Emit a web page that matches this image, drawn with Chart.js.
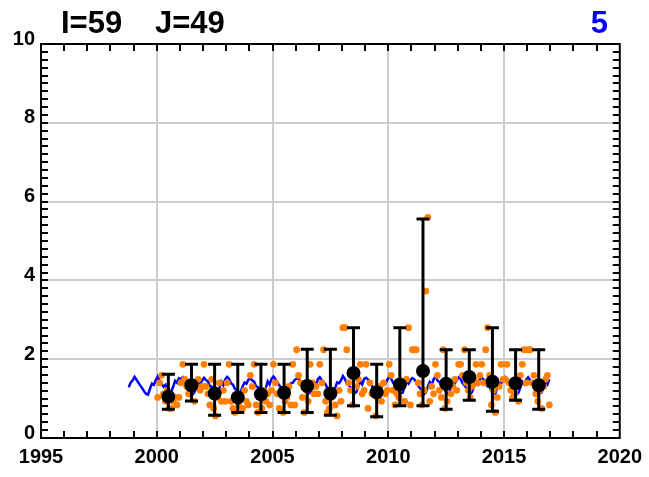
<!DOCTYPE html>
<html><head><meta charset="utf-8">
<script src="https://cdn.jsdelivr.net/npm/chart.js@4/dist/chart.umd.min.js"></script>
<style>html,body{margin:0;padding:0;background:#fff}#wrap{width:649px;height:477px;position:relative}</style>
</head><body><div id="wrap"><canvas id="c" width="649" height="477"></canvas></div>
<script>
// ---- data ----
const headerLeft = ['I=59', 'J=49'];
const headerRight = '5';
const xTickLabels = [1995, 2000, 2005, 2010, 2015, 2020];
const yTickLabels = [0, 2, 4, 6, 8, 10];

// annual statistics (plotted at mid-year)
const years = [2000,2001,2002,2003,2004,2005,2006,2007,2008,2009,2010,2011,2012,2013,2014,2015,2016];
const annualMean = [1.05,1.34,1.13,1.03,1.11,1.15,1.32,1.13,1.65,1.16,1.36,1.70,1.38,1.55,1.43,1.39,1.34];
const annualLow  = [0.73,0.94,0.58,0.65,0.65,0.65,0.65,0.58,0.82,0.54,0.82,0.82,0.73,0.96,0.68,0.96,0.73];
const annualHigh = [1.62,1.87,1.87,1.87,1.87,1.87,2.25,2.25,2.80,1.87,2.80,5.56,2.24,2.24,2.80,2.24,2.24];

// monthly observations, Jan 2000 .. Dec 2016
const obsStartYear = 2000;
const obsValues = [
 1.03,1.40,1.59,1.12,0.93,1.21,0.75,0.75,0.93,1.03,0.84,1.03,
 1.40,1.87,1.49,1.31,1.12,1.21,1.40,0.93,1.31,1.49,1.21,1.31,
 1.87,1.31,1.12,0.84,1.49,0.75,0.56,1.03,1.40,0.93,1.21,0.93,
 1.40,1.87,0.93,0.75,0.65,1.12,0.84,1.03,0.75,1.21,0.93,0.84,
 1.59,1.31,1.87,0.84,0.65,1.03,0.75,1.21,0.93,1.12,0.84,1.21,
 1.87,1.40,1.12,0.75,1.21,0.65,0.93,1.03,1.31,0.84,1.87,0.84,
 2.24,1.59,1.40,1.03,0.65,1.21,0.93,1.87,1.40,1.12,1.31,1.12,
 1.87,1.40,2.24,0.93,0.65,0.75,1.03,1.12,0.84,0.56,1.21,0.93,
 2.80,2.80,2.24,1.40,1.21,0.84,1.59,1.31,1.49,1.87,1.12,1.21,
 1.87,0.75,1.40,1.12,1.21,0.56,1.03,1.31,0.93,1.40,1.12,1.21,
 1.87,1.59,1.21,0.84,1.12,1.03,1.40,1.31,0.93,1.49,2.80,0.84,
 2.24,2.24,2.24,1.40,1.12,0.84,1.21,3.73,5.60,0.93,1.31,1.12,
 1.87,1.59,1.21,1.03,2.24,0.75,0.93,1.40,1.12,1.31,1.49,1.21,
 1.87,1.87,1.59,2.24,1.40,1.21,1.03,1.31,1.49,1.87,1.40,1.59,
 1.87,1.40,2.24,2.80,1.59,0.84,1.21,0.65,1.03,1.31,1.87,1.49,
 1.49,1.87,1.40,1.21,1.03,1.12,1.31,0.93,1.59,1.87,2.24,1.40,
 2.24,2.24,1.40,1.59,1.12,0.93,1.21,0.75,1.31,1.49,1.59,0.84
];

// model series, monthly from Oct 1998
const modelStart = 1998 + 9/12;
const modelValues = [
 1.29,1.41,1.46,
 1.55,1.48,1.40,1.33,1.26,1.18,1.12,1.10,1.25,1.38,1.35,1.47,
 1.56,1.45,1.38,1.30,1.35,1.22,1.14,1.18,1.30,1.45,1.40,1.52,
 1.50,1.54,1.42,1.36,1.28,1.20,1.10,1.16,1.28,1.40,1.37,1.46,
 1.53,1.47,1.44,1.32,1.30,1.17,1.13,1.12,1.27,1.43,1.34,1.49,
 1.55,1.50,1.39,1.35,1.25,1.21,1.11,1.17,1.31,1.41,1.38,1.48,
 1.52,1.46,1.43,1.31,1.29,1.19,1.14,1.13,1.26,1.44,1.36,1.50,
 1.56,1.49,1.41,1.34,1.27,1.18,1.12,1.15,1.29,1.39,1.40,1.47,
 1.51,1.53,1.40,1.33,1.30,1.20,1.13,1.16,1.30,1.42,1.35,1.49,
 1.54,1.47,1.42,1.36,1.26,1.19,1.11,1.14,1.28,1.41,1.39,1.46,
 1.57,1.50,1.38,1.34,1.28,1.21,1.13,1.17,1.31,1.44,1.36,1.50,
 1.53,1.48,1.43,1.32,1.27,1.18,1.12,1.13,1.27,1.40,1.37,1.48,
 1.55,1.51,1.40,1.35,1.29,1.20,1.14,1.15,1.29,1.43,1.38,1.47,
 1.52,1.49,1.41,1.33,1.26,1.19,1.11,1.16,1.30,1.42,1.35,1.49,
 1.56,1.46,1.42,1.36,1.28,1.21,1.13,1.14,1.28,1.41,1.39,1.46,
 1.54,1.50,1.39,1.34,1.27,1.20,1.12,1.17,1.31,1.44,1.36,1.50,
 1.53,1.48,1.43,1.31,1.30,1.18,1.14,1.13,1.27,1.40,1.38,1.47,
 1.55,1.52,1.40,1.35,1.26,1.21,1.11,1.15,1.29,1.43,1.37,1.48,
 1.54,1.47,1.41,1.33,1.28,1.19,1.13,1.16,1.30,1.42,1.36,1.49
];

// ---- build library tables ----
const modelPts = modelValues.map((v, i) => ({x: modelStart + (i + 0.5) / 12, y: v}));
const obsPts = obsValues.map((v, i) => ({x: obsStartYear + (i + 0.5) / 12, y: v}));
const meanPts = years.map((yr, i) => ({x: yr + 0.5, y: annualMean[i]}));

const FONT = '"Liberation Sans", Arial, Helvetica, sans-serif';

const errorBars = {
  id: 'errorBars',
  afterDatasetDraw(chart, args) {
    if (args.index !== 1) return;
    const {ctx, scales: {x, y}, chartArea: a} = chart;
    ctx.save();
    ctx.beginPath(); ctx.rect(a.left, a.top, a.right - a.left, a.bottom - a.top); ctx.clip();
    ctx.strokeStyle = '#000'; ctx.lineWidth = 3; ctx.lineCap = 'butt';
    years.forEach((yr, i) => {
      const px = x.getPixelForValue(yr + 0.5);
      const lo = y.getPixelForValue(annualLow[i]);
      const hi = y.getPixelForValue(annualHigh[i]);
      ctx.beginPath();
      ctx.moveTo(px, lo); ctx.lineTo(px, hi);
      ctx.moveTo(px - 6.5, lo); ctx.lineTo(px + 6.5, lo);
      ctx.moveTo(px - 6.5, hi); ctx.lineTo(px + 6.5, hi);
      ctx.stroke();
    });
    ctx.restore();
  }
};

const frame = {
  id: 'frame',
  afterDraw(chart) {
    const {ctx, chartArea: a, scales: {x, y}} = chart;
    ctx.save();
    ctx.strokeStyle = '#000'; ctx.lineWidth = 2;
    ctx.beginPath();
    for (let k = 1; k < 50; k++) {
      const py = Math.round(y.getPixelForValue(k / 5));
      ctx.moveTo(a.left, py); ctx.lineTo(a.left + 7, py);
      ctx.moveTo(a.right, py); ctx.lineTo(a.right - 7, py);
    }
    for (let yr = 1996; yr < 2020; yr++) {
      const px = Math.round(x.getPixelForValue(yr));
      ctx.moveTo(px, a.top); ctx.lineTo(px, a.top + 7);
      ctx.moveTo(px, a.bottom); ctx.lineTo(px, a.bottom - 7);
    }
    ctx.stroke();
    ctx.strokeRect(a.left, a.top, a.right - a.left, a.bottom - a.top);
    ctx.font = 'bold 31px ' + FONT;
    ctx.textBaseline = 'alphabetic';
    ctx.fillStyle = '#000'; ctx.textAlign = 'left';
    ctx.fillText(headerLeft[0], 61, 33);
    ctx.fillText(headerLeft[1], 155, 33);
    ctx.fillStyle = '#0000ff'; ctx.textAlign = 'right';
    ctx.fillText(headerRight, 608, 33);
    ctx.restore();
  }
};

new Chart(document.getElementById('c'), {
  type: 'scatter',
  data: {
    datasets: [
      {type: 'line', data: modelPts, borderColor: '#0000ff', borderWidth: 2.5, pointRadius: 0, fill: false, tension: 0, order: 3},
      {data: obsPts, backgroundColor: '#ff8000', borderWidth: 0, pointRadius: 3.4, order: 2},
      {data: meanPts, backgroundColor: '#000', borderWidth: 0, pointRadius: 7, order: 1}
    ]
  },
  options: {
    responsive: false, animation: false, devicePixelRatio: 1,
    layout: {padding: {top: 44, right: 29, left: 0, bottom: 0}},
    plugins: {legend: {display: false}, tooltip: {enabled: false}, title: {display: false}},
    scales: {
      x: {
        type: 'linear', min: 1995, max: 2020,
        afterBuildTicks: s => { s.ticks = xTickLabels.map(v => ({value: v})); },
        afterFit: s => { s.height = 39; },
        ticks: {font: {family: FONT, size: 20, weight: 'bold'}, color: '#000', padding: 7, maxRotation: 0, callback: v => String(v)},
        grid: {drawTicks: false, lineWidth: 2, color: c => (c.tick && (c.tick.value === 1995 || c.tick.value === 2020)) ? 'rgba(0,0,0,0)' : '#cccccc'},
        border: {display: false}
      },
      y: {
        type: 'linear', min: 0, max: 10,
        afterBuildTicks: s => { s.ticks = yTickLabels.map(v => ({value: v})); },
        afterFit: s => { s.width = 41; },
        ticks: {font: {family: FONT, size: 20, weight: 'bold'}, color: '#000', padding: 6, labelOffset: -5, callback: v => String(v)},
        grid: {drawTicks: false, lineWidth: 2, color: c => (c.tick && (c.tick.value === 0 || c.tick.value === 10)) ? 'rgba(0,0,0,0)' : '#cccccc'},
        border: {display: false}
      }
    }
  },
  plugins: [errorBars, frame]
});
</script>
</body></html>
